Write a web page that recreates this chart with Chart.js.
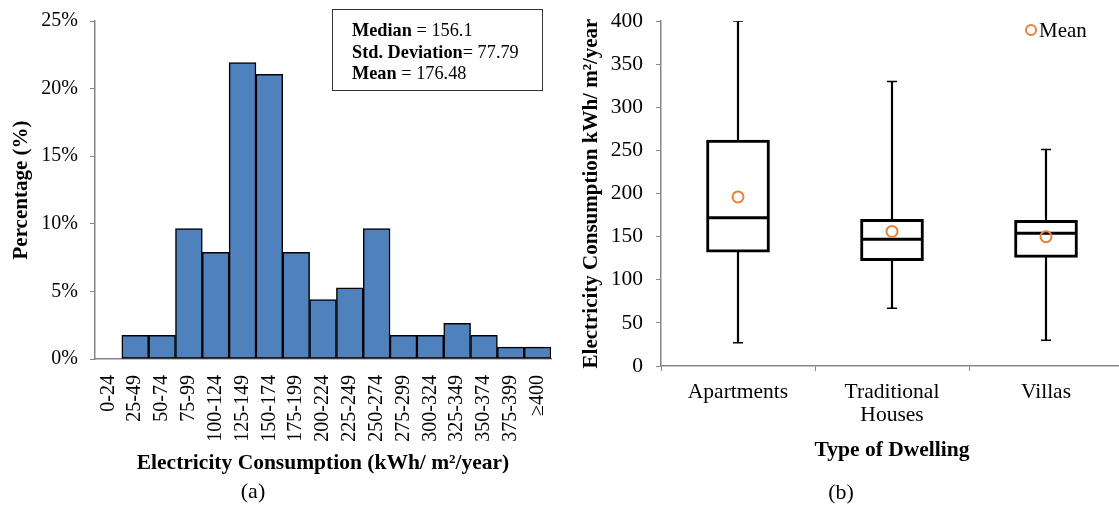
<!DOCTYPE html>
<html>
<head>
<meta charset="utf-8">
<script src="https://cdn.jsdelivr.net/npm/chart.js@4.4.1/dist/chart.umd.min.js"></script>
<style>
    body { margin: 0; background: #fff; font-family: "Liberation Serif", "Times New Roman", serif; }
    #wrap { position: relative; width: 1119px; height: 506px; overflow: hidden; }
    .holder { position: absolute; top: 0; height: 480px; }
    #statsBox {
        position: absolute; left: 332px; top: 9px; width: 209px; height: 80px;
        border: 1px solid #333;
        font-size: 18.3px; line-height: 21.5px; color: #000;
    }
    #statsBox .inner { position: absolute; left: 19px; top: 10px; white-space: nowrap; }
    .caption { position: absolute; font-size: 22px; color: #000; transform: translate(-50%, -50%); }
</style>
</head>
<body>
<div id="wrap">
    <div class="holder" style="left:0; width:570px;"><canvas id="histChart"></canvas></div>
    <div class="holder" style="left:565px; width:558px;"><canvas id="boxChart"></canvas></div>
    <div id="statsBox"><div class="inner">
        <b>Median</b> = 156.1<br>
        <b>Std. Deviation</b>= 77.79<br>
        <b>Mean</b> = 176.48
    </div></div>
    <div class="caption" style="left:253px; top:491px;">(a)</div>
    <div class="caption" style="left:841px; top:492px;">(b)</div>
</div>

<script>
// Histogram (a)
const binLabels = ['0-24', '25-49', '50-74', '75-99', '100-124', '125-149', '150-174', '175-199',
    '200-224', '225-249', '250-274', '275-299', '300-324', '325-349', '350-374', '375-399', '\u2265400'];
const binPercent = [0, 1.75, 1.75, 9.65, 7.89, 21.93, 21.05, 7.89, 4.39, 5.26, 9.65, 1.75, 1.75, 2.63, 1.75, 0.88, 0.88];
const percentTicks = [0, 5, 10, 15, 20, 25];

// Box plot (b)
const dwellingTypes = ['Apartments', ['Traditional', 'Houses'], 'Villas'];
const whiskerMin = [27, 67, 30];
const quartile1 = [132, 122, 126];
const medianVals = [172, 147, 154];
const quartile3 = [262, 170, 169];
const whiskerMax = [400, 330, 251];
const meanVals = [196, 156, 150];

const serif = '"Liberation Serif", "Times New Roman", serif';
const axisGrey = '#868686';
const meanColor = '#E8803A';

Chart.defaults.font.family = serif;
Chart.defaults.color = '#000';
Chart.defaults.animation = false;

// Small legend for the mean marker, drawn in the top right of the plot area
const meanLegend = {
    id: 'meanLegend',
    afterDraw: function(chart) {
        const area = chart.chartArea;
        const ds = chart.data.datasets.find(d => d.label === 'Mean');
        const ctx = chart.ctx;
        const cx = area.right - 92;
        const cy = area.top + 9;
        ctx.save();
        ctx.beginPath();
        ctx.arc(cx, cy, 5, 0, Math.PI * 2);
        ctx.lineWidth = 2;
        ctx.strokeStyle = ds.pointBorderColor;
        ctx.stroke();
        ctx.fillStyle = '#000';
        ctx.font = '21px ' + serif;
        ctx.textBaseline = 'middle';
        ctx.textAlign = 'left';
        ctx.fillText(ds.label, cx + 8, cy + 1);
        ctx.restore();
    }
};

// fixed axis width, and no extra room above/below for the end labels
function fixYAxis(width) {
    return function(scale) {
        scale.width = width;
        scale.paddingTop = 0;
        scale.paddingBottom = 0;
    };
}

function makeHistogram() {
    const ctx = document.getElementById('histChart');
    ctx.width = 570; ctx.height = 480;
    new Chart(ctx, {
        type: 'bar',
        data: {
            labels: binLabels,
            datasets: [{
                label: 'Percentage',
                data: binPercent,
                backgroundColor: '#4F81BD',
                borderColor: '#000',
                borderWidth: 1.5,
                borderSkipped: false,
                barPercentage: 1,
                categoryPercentage: 1
            }]
        },
        options: {
            responsive: false,
            layout: { autoPadding: false, padding: { left: 0, right: 13, top: 21, bottom: 0 } },
            plugins: { legend: { display: false }, tooltip: { enabled: false } },
            scales: {
                x: {
                    grid: { display: false },
                    border: { color: axisGrey, width: 1.5 },
                    ticks: {
                        minRotation: 90, maxRotation: 90, autoSkip: false,
                        padding: 8,
                        font: { size: 20 }
                    },
                    title: {
                        display: true,
                        text: 'Electricity Consumption (kWh/ m\u00b2/year)',
                        font: { size: 21.5, weight: 'bold' },
                        padding: { top: 0, bottom: 4 }
                    },
                    afterFit: function(scale) { scale.height = 121; }
                },
                y: {
                    min: 0, max: 25,
                    afterBuildTicks: function(scale) {
                        scale.ticks = percentTicks.map(v => ({ value: v }));
                    },
                    grid: { drawOnChartArea: false, tickLength: 5, color: axisGrey },
                    border: { color: axisGrey, width: 1.5 },
                    ticks: {
                        padding: 12,
                        font: { size: 20 },
                        callback: function(value) { return value + '%'; }
                    },
                    title: {
                        display: true,
                        text: 'Percentage (%)',
                        font: { size: 21, weight: 'bold' },
                        padding: { top: 9, bottom: 0 }
                    },
                    afterFit: fixYAxis(95)
                }
            }
        }
    });
}

function makeBoxPlot() {
    const ctx = document.getElementById('boxChart');
    ctx.width = 558; ctx.height = 480;
    const whiskerRanges = whiskerMin.map((v, i) => [v, whiskerMax[i]]);
    const boxRanges = quartile1.map((v, i) => [v, quartile3[i]]);

    new Chart(ctx, {
        type: 'bar',
        data: {
            labels: dwellingTypes,
            datasets: [
                {
                    label: 'Whisker',
                    data: whiskerRanges,
                    backgroundColor: '#000',
                    barThickness: 1.5,
                    grouped: false,
                    order: 5
                },
                {
                    label: 'Box',
                    data: boxRanges,
                    backgroundColor: '#fff',
                    borderColor: '#000',
                    borderWidth: 3,
                    borderSkipped: false,
                    barThickness: 63,
                    grouped: false,
                    order: 4
                },
                {
                    type: 'line',
                    label: 'Min',
                    data: whiskerMin,
                    showLine: false,
                    pointStyle: 'line',
                    pointRadius: 5,
                    borderColor: '#000',
                    pointBorderWidth: 1.5,
                    order: 3
                },
                {
                    type: 'line',
                    label: 'Max',
                    data: whiskerMax,
                    showLine: false,
                    pointStyle: 'line',
                    pointRadius: 5,
                    borderColor: '#000',
                    pointBorderWidth: 1.5,
                    order: 3
                },
                {
                    type: 'line',
                    label: 'Median',
                    data: medianVals,
                    showLine: false,
                    pointStyle: 'line',
                    pointRadius: 31,
                    borderColor: '#000',
                    pointBorderWidth: 3,
                    order: 2
                },
                {
                    type: 'line',
                    label: 'Mean',
                    data: meanVals,
                    showLine: false,
                    pointStyle: 'circle',
                    pointRadius: 5.5,
                    borderColor: meanColor,
                    backgroundColor: 'rgba(255,255,255,0)',
                    pointBorderColor: meanColor,
                    pointBackgroundColor: 'rgba(255,255,255,0)',
                    pointBorderWidth: 2,
                    borderWidth: 2,
                    order: 1
                }
            ]
        },
        options: {
            responsive: false,
            layout: { autoPadding: false, padding: { left: 0, right: 0, top: 21, bottom: 0 } },
            plugins: {
                tooltip: { enabled: false },
                legend: { display: false }
            },
            scales: {
                x: {
                    grid: { drawOnChartArea: false, tickLength: 5, color: axisGrey, offset: true },
                    border: { color: axisGrey, width: 1.5 },
                    ticks: { padding: 10, font: { size: 21.5, lineHeight: 1.08 } },
                    title: {
                        display: true,
                        text: 'Type of Dwelling',
                        font: { size: 21.5, weight: 'bold' },
                        padding: { top: 0, bottom: 17 }
                    },
                    afterFit: function(scale) { scale.height = 114; }
                },
                y: {
                    min: 0, max: 400,
                    ticks: { stepSize: 50, padding: 13, font: { size: 21.5 } },
                    grid: { drawOnChartArea: false, tickLength: 5, color: axisGrey },
                    border: { color: axisGrey, width: 1.5 },
                    title: {
                        display: true,
                        text: 'Electricity Consumption kWh/ m\u00b2/year',
                        font: { size: 21, weight: 'bold' },
                        padding: { top: 14, bottom: 0 }
                    },
                    afterFit: fixYAxis(96)
                }
            }
        },
        plugins: [meanLegend]
    });
}

makeHistogram();
makeBoxPlot();
</script>
</body>
</html>
